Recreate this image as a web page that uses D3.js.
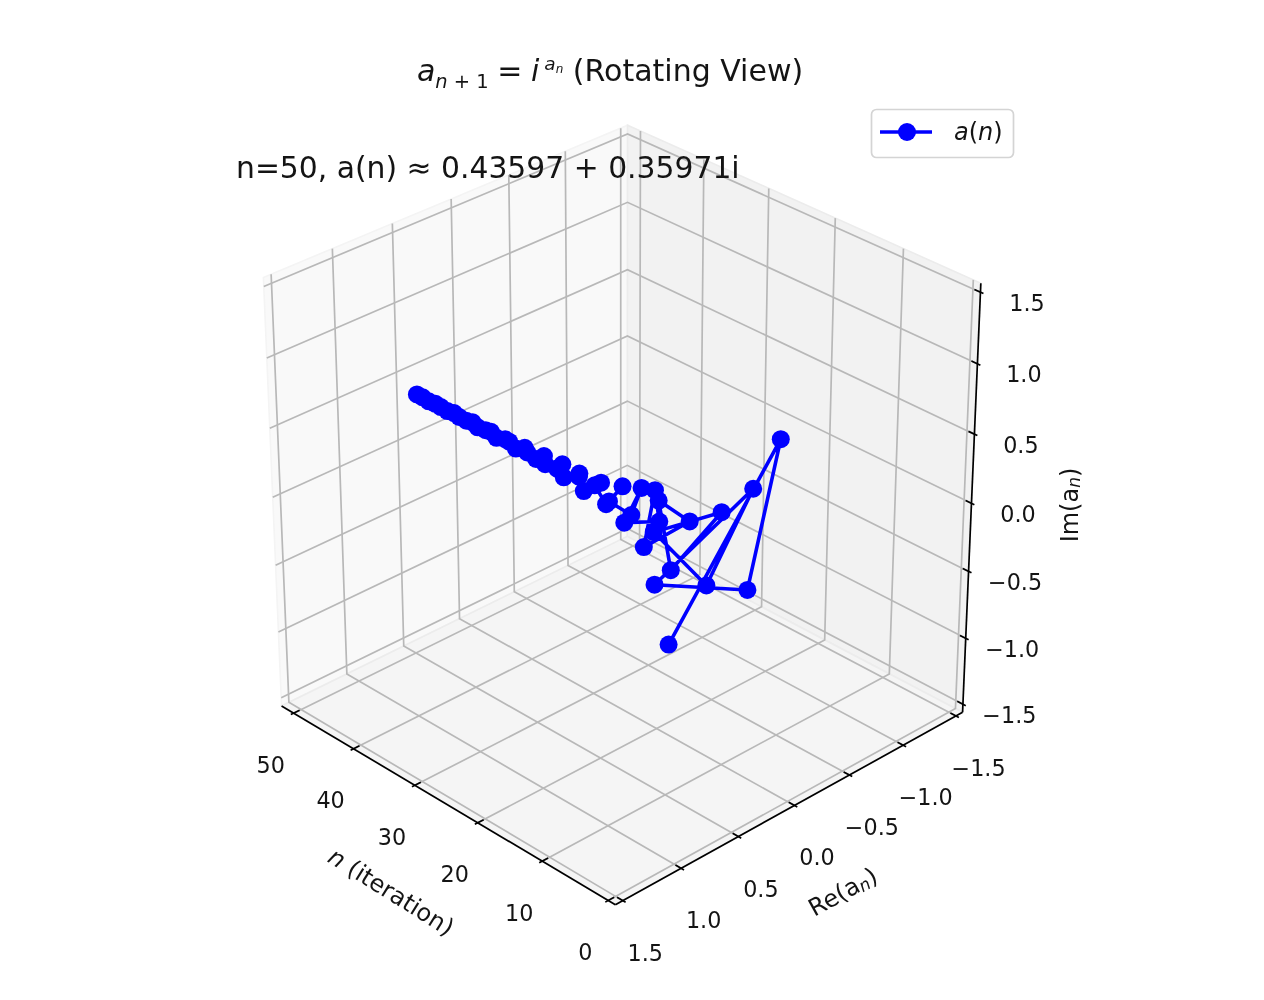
<!DOCTYPE html>
<html><head><meta charset="utf-8">
<script src="https://cdnjs.cloudflare.com/ajax/libs/d3/7.8.5/d3.min.js"></script>
<style>html,body{margin:0;background:#fff}svg{display:block;filter:blur(.55px)}text{font-family:"DejaVu Sans";fill:#141414}</style>
</head><body><svg id="c" width="1264" height="1000"></svg>
<script>
const nValues=[1,2,3,4,5,6,7,8,9,10,11,12,13,14,15,16,17,18,19,20,21,22,23,24,25,26,27,28,29,30,31,32,33,34,35,36,37,38,39,40,41,42,43,44,45,46,47,48,49,50];
const reValues=[1,0,.2079,.9472,.05,.3872,.7823,.1425,.5198,.5687,.2423,.5785,.4272,.331,.5744,.3698,.4007,.5348,.362,.4467,.4878,.3771,.4693,.4508,.3993,.4733,.4295,.4199,.4662,.4215,.435,.4552,.4218,.4435,.4455,.4261,.4464,.4387,.4314,.4458,.4354,.4357,.4437,.4344,.4385,.4411,.4349,.4399,.4392,.43597];
const imValues=[0,1,0,.3208,.6021,.0305,.5447,.4004,.1183,.6051,.3012,.2315,.5484,.2628,.3288,.4682,.263,.3895,.4039,.2855,.4122,.3628,.3157,.4094,.3419,.343,.395,.3359,.3616,.3788,.3391,.3706,.3663,.346,.3725,.3588,.3531,.3704,.3554,.3587,.3668,.355,.3619,.3635,.3563,.3632,.3611,.3579,.3633,.35971];
const nTicks=[0,10,20,30,40,50];
const reTicks=[-1.5,-1,-.5,0,.5,1,1.5];
const imTicks=[-1.5,-1,-.5,0,.5,1,1.5];
const annotation="n=50, a(n) ≈ 0.43597 + 0.35971i";

const svg=d3.select("#c");
// data -> unit cube (centred)
const X=d3.scaleLinear().domain([0,51]).range([-.5,.5]);
const Y=d3.scaleLinear().domain([-1.5,1.5]).range([-.5,.5]);
const Z=d3.scaleLinear().domain([-1.5,1.5]).range([-.5,.5]);
// camera
const rad=Math.PI/180, elev=30*rad, azim=136*rad, dist=10;
const ce=Math.cos(elev),se=Math.sin(elev),ca=Math.cos(azim),sa=Math.sin(azim);
const R=[-sa,ca,0],U=[-se*ca,-se*sa,ce],N=[ce*ca,ce*sa,se];
const dot=(a,b)=>a[0]*b[0]+a[1]*b[1]+a[2]*b[2];
// projected plane -> pixels
const PX=d3.scaleLinear().domain([-.1,.1]).range([621.7-474.4,621.7+474.4]);
const PY=d3.scaleLinear().domain([-.1,.1]).range([500.3+475,500.3-475]);
const proj=q=>{const w=dist-dot(q,N);return [PX(dot(q,R)/w),PY(dot(q,U)/w)];};
const line=d3.line().x(d=>proj(d)[0]).y(d=>proj(d)[1]);
const a=.5+1/48, t=1/12;

// panes
const panes=[
 {c:"#f9f9f9",p:[[a,-a,-a],[a,a,-a],[a,a,a],[a,-a,a]]},
 {c:"#f2f2f2",p:[[-a,-a,-a],[a,-a,-a],[a,-a,a],[-a,-a,a]]},
 {c:"#f5f5f5",p:[[-a,-a,-a],[-a,a,-a],[a,a,-a],[a,-a,-a]]}];
svg.append("g").selectAll("path").data(panes).join("path")
 .attr("d",d=>line(d.p)+"Z").attr("fill",d=>d.c).attr("stroke",d=>d.c==="#f9f9f9"?"#f4f4f4":"#ececec").attr("stroke-width",1.6);

// grid
const grid=[];
nTicks.forEach(v=>{const x=X(v);grid.push([[x,a,-a],[x,-a,-a],[x,-a,a]]);});
reTicks.forEach(v=>{const y=Y(v);grid.push([[-a,y,-a],[a,y,-a],[a,y,a]]);});
imTicks.forEach(v=>{const z=Z(v);grid.push([[a,a,z],[a,-a,z],[-a,-a,z]]);});
svg.append("g").selectAll("path").data(grid).join("path").attr("d",line)
 .attr("fill","none").attr("stroke","#b8b8b8").attr("stroke-width",1.7);

// axis lines
const axes=[[[-a,a,-a],[a,a,-a]],[[-a,a,-a],[-a,-a,-a]],[[-a,-a,-a],[-a,-a,a]]];
svg.append("g").selectAll("path").data(axes).join("path").attr("d",line)
 .attr("fill","none").attr("stroke","#000").attr("stroke-width",1.7);

// ticks and labels
const fmt=v=>(v<0?"\u2212":"")+Math.abs(v).toFixed(1);
const tickSets=[
 {v:nTicks,f:String,tick:v=>[[X(v),a+.1*t,-a],[X(v),a-.2*t,-a]],mid:v=>[X(v),a,-a],dx:-23,dy:51.5},
 {v:reTicks,f:fmt,tick:v=>[[-a-.1*t,Y(v),-a],[-a+.2*t,Y(v),-a]],mid:v=>[-a,Y(v),-a],dx:22.5,dy:52},
 {v:imTicks,f:fmt,tick:v=>[[-a-.1*t,-a,Z(v)],[-a+.2*t,-a,Z(v)]],mid:v=>[-a,-a,Z(v)],dx:46.5,dy:10.5}];
tickSets.forEach(s=>{
 const g=svg.append("g");
 g.selectAll("path").data(s.v).join("path").attr("d",d=>line(s.tick(d))).attr("stroke","#000").attr("stroke-width",1.7).attr("fill","none");
 g.selectAll("text").data(s.v).join("text").text(s.f)
  .attr("x",d=>proj(s.mid(d))[0]+s.dx).attr("y",d=>proj(s.mid(d))[1]+s.dy)
  .attr("text-anchor","middle").attr("dominant-baseline","central").attr("font-size",22.3);
});

// axis labels
function math(sel,parts){parts.forEach(p=>{const ts=sel.append("tspan").text(p.t);
 if(p.i)ts.attr("font-style","italic"); if(p.s)ts.attr("font-size",p.s); if(p.dy)ts.attr("dy",p.dy); if(p.dx)ts.attr("dx",p.dx);});}
const lab=(x,y,rot,parts)=>{const s=svg.append("text").attr("text-anchor","middle").attr("dominant-baseline","central")
 .attr("font-size",24).attr("transform",`translate(${x},${y}) rotate(${rot})`);math(s,parts);};
lab(391,892,32,[{t:"n",i:1},{t:" (iteration)"}]);
lab(843,892,-29,[{t:"Re(a"},{t:"n",s:17,dy:4,i:1},{t:")",dy:-4}]);
lab(1070,505,-90,[{t:"Im(a"},{t:"n",s:17,dy:4,i:1},{t:")",dy:-4}]);

// series
const pts=nValues.map((n,i)=>[X(n),Y(reValues[i]),Z(imValues[i])]);
svg.append("path").attr("d",line(pts)).attr("fill","none").attr("stroke","#0000ff").attr("stroke-width",3.6).attr("stroke-linejoin","round");
svg.append("g").selectAll("circle").data(pts).join("circle")
 .attr("cx",d=>proj(d)[0]).attr("cy",d=>proj(d)[1]).attr("r",9).attr("fill","#0000ff");

// title
const title=svg.append("text").attr("x",610).attr("y",81).attr("text-anchor","middle").attr("font-size",30);
math(title,[{t:"a",i:1},{t:"n",i:1,s:19.5,dy:7},{t:" + 1",s:19.5},{t:" = ",dy:-7,dx:-1},{t:"i",i:1,dx:-1},{t:"a",i:1,s:18.5,dy:-11,dx:5},{t:"n",i:1,s:12,dy:3},{t:" (Rotating View)",dy:8,dx:0}]);

// annotation
svg.append("text").attr("x",236).attr("y",178).attr("font-size",29.8).text(annotation);

// legend
const lg=svg.append("g");
lg.append("rect").attr("x",871.5).attr("y",109.5).attr("width",142).attr("height",48).attr("rx",5).attr("fill","#fff").attr("fill-opacity",.8).attr("stroke","#d4d4d4").attr("stroke-width",1.7);
lg.append("line").attr("x1",880).attr("x2",932).attr("y1",132).attr("y2",132).attr("stroke","#0000ff").attr("stroke-width",3.6);
lg.append("circle").attr("cx",907).attr("cy",132).attr("r",9).attr("fill","#0000ff");
const lt=lg.append("text").attr("x",954).attr("y",140).attr("font-size",24);
math(lt,[{t:"a",i:1},{t:"("},{t:"n",i:1},{t:")"}]);
</script></body></html>
